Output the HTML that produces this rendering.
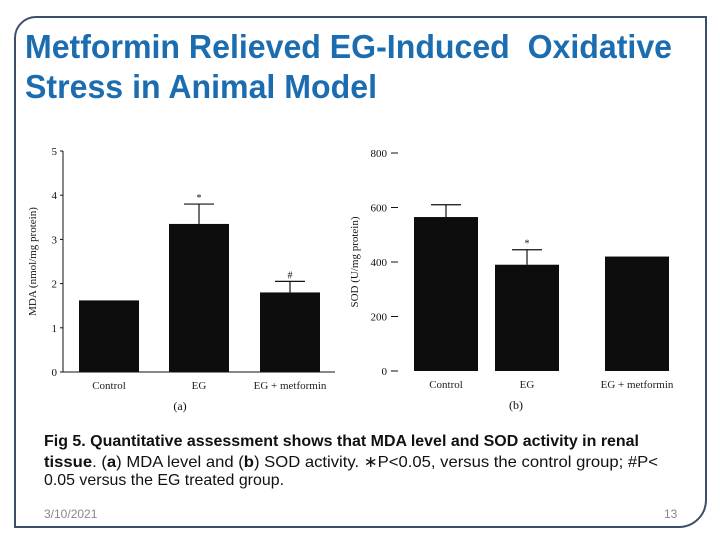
<!DOCTYPE html>
<html><head><meta charset="utf-8"><style>
html,body{margin:0;padding:0;background:#fff;}
body{width:720px;height:540px;position:relative;overflow:hidden;font-family:"Liberation Sans",sans-serif;}
#frame{position:absolute;left:14px;top:16px;width:689px;height:508px;border:2px solid #3b4f6b;border-top-left-radius:22px;border-bottom-right-radius:28px;}
.fit{position:absolute;white-space:nowrap;transform-origin:0 0;}
.t{font-size:33px;color:#1c6cb0;font-weight:bold;}
.c{font-size:16px;color:#111;}
#date{position:absolute;left:44px;top:507px;font-size:12px;color:#888;}
#pnum{position:absolute;left:664px;top:507px;font-size:12px;color:#888;}
svg text{font-family:"Liberation Serif",serif;}
</style></head><body>
<div id="frame"></div>
<div class="fit t" data-w="647" style="left:25px;top:28px">Metformin Relieved EG-Induced&nbsp; Oxidative</div>
<div class="fit t" data-w="352" style="left:25px;top:68px">Stress in Animal Model</div>
<svg id="chart" width="720" height="540" style="position:absolute;left:0;top:0"></svg>
<div class="fit c" data-w="595" style="left:44px;top:433px"><b>Fig 5. Quantitative assessment shows that MDA level and SOD activity in renal</b></div>
<div class="fit c" data-w="614" style="left:44px;top:452px"><b>tissue</b>. (<b>a</b>) MDA level and (<b>b</b>) SOD activity. ∗P&lt;0.05, versus the control group; #P&lt;</div>
<div class="fit c" data-w="240" style="left:44px;top:472px">0.05 versus the EG treated group.</div>
<div id="date">3/10/2021</div>
<div id="pnum">13</div>
<script>
const categories=["Control","EG","EG + metformin"];
const mdaValues=[1.62,3.35,1.8];
const mdaErrors=[0,0.45,0.25];
const mdaMarks=["","*","#"];
const mdaTicks=[0,1,2,3,4,5];
const sodValues=[565,390,420];
const sodErrors=[45,55,0];
const sodMarks=["","*",""];
const sodTicks=[0,200,400,600,800];

document.querySelectorAll('.fit').forEach(el=>{const w=el.getBoundingClientRect().width;el.style.transform='scaleX('+(parseFloat(el.dataset.w)/w)+')';});

const svg=document.getElementById('chart');
const NS='http://www.w3.org/2000/svg';
function mk(tag,attrs,text){const e=document.createElementNS(NS,tag);for(const k in attrs)e.setAttribute(k,attrs[k]);if(text!==undefined)e.textContent=text;svg.appendChild(e);return e;}

function panel(cfg){
  const y=v=>cfg.y0-(v-0)/cfg.max*(cfg.y0-cfg.yTop);
  if(cfg.axis){
    const ax=mk('line',{x1:cfg.axX,y1:cfg.yTop,x2:cfg.axX,y2:cfg.y0,stroke:'#111','stroke-width':1});
    
    const bx=mk('line',{x1:cfg.axX,y1:cfg.y0,x2:cfg.axEnd,y2:cfg.y0,stroke:'#111','stroke-width':1});
    
  }
  cfg.ticks.forEach(t=>{
    const ty=y(t);
    if(cfg.axis){mk('line',{x1:cfg.axX-3,y1:ty,x2:cfg.axX,y2:ty,stroke:'#111'});}
    else{mk('line',{x1:cfg.tickX,y1:ty,x2:cfg.tickX+7,y2:ty,stroke:'#111'});}
    const tl=mk('text',{x:cfg.labelX,y:ty+4,'font-size':11,'text-anchor':'end',fill:'#111'},String(t));
    
  });
  cfg.values.forEach((v,i)=>{
    const x=cfg.barX[i];
    const b=mk('rect',{x:x,y:y(v),width:cfg.barW,height:cfg.y0-y(v),fill:'#0d0d0d'});
    
    const cx=x+cfg.barW/2;
    if(cfg.errors[i]>0){
      const ey=y(v+cfg.errors[i]);
      mk('line',{x1:cx,y1:y(v),x2:cx,y2:ey,stroke:'#111','stroke-width':1.2});
      const cap=mk('line',{x1:cx-15,y1:ey,x2:cx+15,y2:ey,stroke:'#111','stroke-width':1.2});
      
      if(cfg.marks[i]){const m=mk('text',{x:cx,y:ey-3,'font-size':10,'text-anchor':'middle',fill:'#111'},cfg.marks[i]);
        }
    }
    const cl=mk('text',{x:cx,y:cfg.y0+17,'font-size':11,'text-anchor':'middle',fill:'#222'},categories[i]);
    
  });
  const yt=mk('text',{x:0,y:0,'font-size':11,'text-anchor':'middle',fill:'#111',transform:`translate(${cfg.titleX},${(cfg.y0+cfg.yTop)/2}) rotate(-90)`},cfg.title);
  
  const pl=mk('text',{x:cfg.panelLabelX,y:cfg.y0+38,'font-size':12,'text-anchor':'middle',fill:'#111'},cfg.panel);
  
}
panel({id:'mda',values:mdaValues,errors:mdaErrors,marks:mdaMarks,ticks:mdaTicks,max:5,y0:372,yTop:151,axis:true,axX:63,axEnd:335,labelX:57,barX:[79,169,260],barW:60,title:'MDA (nmol/mg protein)',titleX:36,panel:'(a)',panelLabelX:180});
panel({id:'sod',values:sodValues,errors:sodErrors,marks:sodMarks,ticks:sodTicks,max:800,y0:371,yTop:153,axis:false,tickX:391,labelX:387,barX:[414,495,605],barW:64,title:'SOD (U/mg protein)',titleX:358,panel:'(b)',panelLabelX:516});
</script>
</body></html>
